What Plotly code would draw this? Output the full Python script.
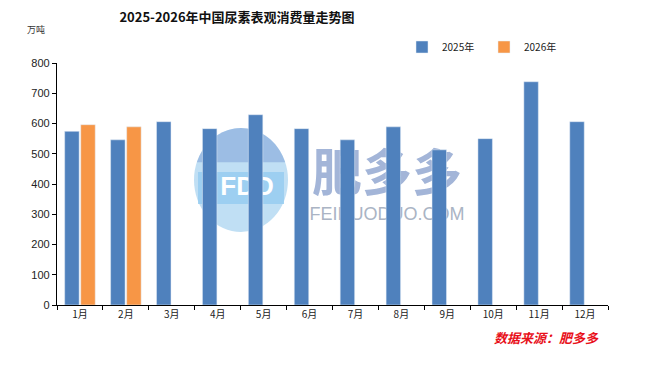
import math
import plotly.graph_objects as go

months = ["1月", "2月", "3月", "4月", "5月", "6月", "7月", "8月", "9月", "10月", "11月", "12月"]
y2025 = [574, 546, 606, 583, 629, 583, 546, 589, 513, 550, 738, 606]
y2026 = [596, 589, None, None, None, None, None, None, None, None, None, None]
y_ticks = [0, 100, 200, 300, 400, 500, 600, 700, 800]

FONT = "Liberation Sans, Arial, sans-serif"
CJK = "Noto Sans CJK SC"

# page body has an 8px margin, so the figure is drawn 8px smaller
OFF = 8
W, H = 649 - OFF, 365 - OFF
L, R, T, B = 57 - OFF, 41, 63 - OFF, 60
PW, PH = W - L - R, H - T - B


def px(x):
    return (x - OFF - L) / PW


def py(y):
    return (H - B - (y - OFF)) / PH


fig = go.Figure()

# watermark (base layer beneath the bars)
fig.add_trace(go.Scatter(
    x=[px(247), px(387), px(387)], y=[py(188), py(178), py(215)],
    mode="text", text=["<b>FDD</b>", "<b>肥多多</b>", "FEIDUODUO.COM"],
    textfont=dict(family=[FONT, CJK, FONT], size=[26, 50, 18],
                  color=["white", "#a3b5d8", "#aab4c4"]),
    textposition="middle center",
    hoverinfo="skip", showlegend=False, xaxis="x", yaxis="y",
))

fig.add_trace(go.Bar(
    x=months, y=y2025, name="2025年", marker_color="#4f81bd",
    xaxis="x2", yaxis="y2",
))
fig.add_trace(go.Bar(
    x=months, y=y2026, name="2026年", marker_color="#f79646",
    xaxis="x2", yaxis="y2",
))

# logo shapes
cx, cy, rx, ry = 241, 180, 47, 52
cap = []
for i in range(0, 181, 10):
    a = math.radians(20 + i * 140 / 180)
    cap.append((px(cx + rx * math.cos(a)), py(cy - ry * math.sin(a))))
cap_path = "M " + " L ".join(f"{a:.4f},{b:.4f}" for a, b in cap) + " Z"

fig.update_layout(
    width=W, height=H,
    margin=dict(l=L, r=R, t=T, b=B, autoexpand=False),
    paper_bgcolor="white", plot_bgcolor="rgba(0,0,0,0)",
    barmode="group", bargap=0.3, bargroupgap=0.1,
    title=dict(text="<b>2025-2026年中国尿素表观消费量走势图</b>",
               x=(237 - OFF) / W, xanchor="center", y=1 - (17 - OFF) / H, yanchor="middle",
               font=dict(family=CJK, size=13, color="#111111")),
    font=dict(family=FONT, size=10, color="#222222"),
    xaxis=dict(domain=[0, 1], range=[0, 1], visible=False, fixedrange=True),
    yaxis=dict(domain=[0, 1], range=[0, 1], visible=False, fixedrange=True),
    xaxis2=dict(overlaying="x", anchor="y2", type="category",
                showline=True, linecolor="black", linewidth=1.3,
                ticks="outside", tickson="boundaries", ticklen=4, tickcolor="black",
                showgrid=False, automargin=False,
                tickfont=dict(family=CJK, size=10, color="#222222")),
    yaxis2=dict(overlaying="y", anchor="x2", range=[0, 800], tickvals=y_ticks,
                showline=True, linecolor="black", linewidth=1.3,
                ticks="outside", ticklen=4, tickcolor="black",
                showgrid=False, zeroline=False, automargin=False,
                tickfont=dict(family=FONT, size=11, color="#222222")),
    legend=dict(orientation="h", x=px(402), xanchor="left", y=py(47), yanchor="middle",
                font=dict(family=CJK, size=10, color="#222222"),
                entrywidth=37, entrywidthmode="pixels",
                itemwidth=30, bgcolor="rgba(0,0,0,0)"),
    showlegend=True,
    shapes=[
        dict(type="circle", xref="paper", yref="paper", layer="below",
             x0=px(cx - rx), x1=px(cx + rx), y0=py(cy + ry), y1=py(cy - ry),
             fillcolor="rgba(165,210,240,0.7)", line=dict(width=0)),
        dict(type="path", xref="paper", yref="paper", layer="below",
             path=cap_path, fillcolor="rgba(125,160,215,0.55)", line=dict(width=0)),
        dict(type="rect", xref="paper", yref="paper", layer="below",
             x0=px(cx - rx + 4), x1=px(cx + rx - 4), y0=py(204), y1=py(172),
             fillcolor="rgba(150,205,240,0.85)", line=dict(width=0)),
    ],
    annotations=[
        dict(text="万吨", xref="paper", yref="paper", x=px(36), y=py(30),
             xanchor="center", yanchor="middle", showarrow=False,
             font=dict(family=CJK, size=9, color="#333333")),
        dict(text="<b><i>数据来源：肥多多</i></b>", xref="paper", yref="paper",
             x=px(601), y=py(338), xanchor="right", yanchor="middle", showarrow=False,
             font=dict(family=CJK, size=13, color="#e8101a")),
    ],
)

fig.write_html("out.html")
